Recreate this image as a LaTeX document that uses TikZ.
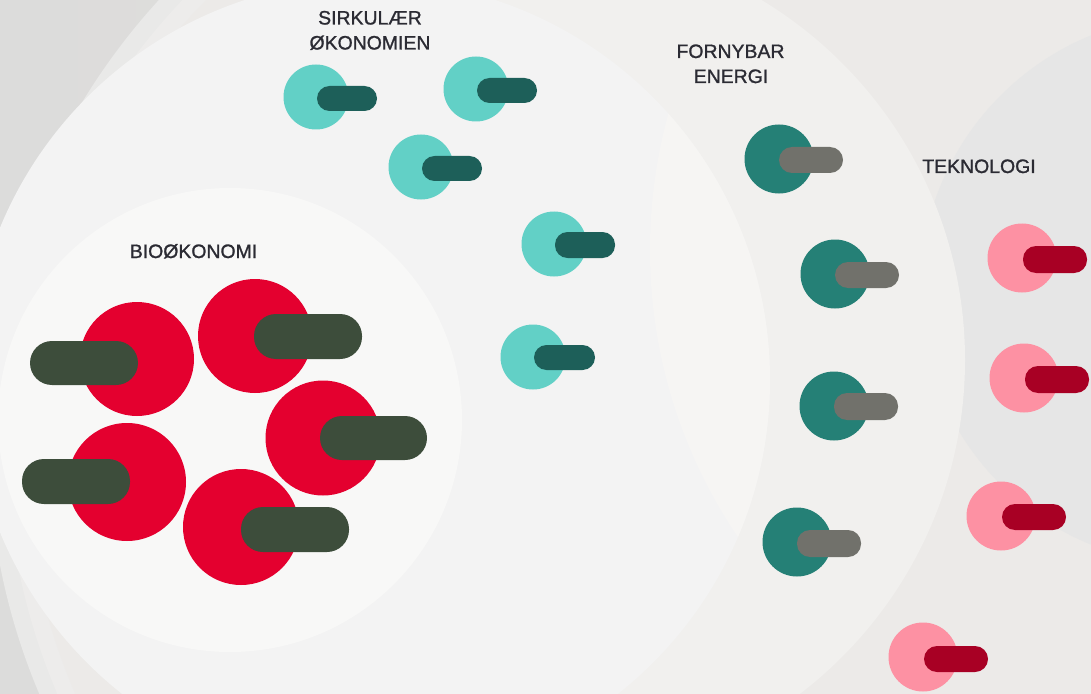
\documentclass[tikz,border=0pt]{standalone}
\usepackage{fontspec}
\setmainfont{Liberation Sans}
\newfontfamily\labfont[BoldFont=Liberation Sans, BoldFeatures={FakeBold=1.2}]{Liberation Sans}
\definecolor{bgL}{HTML}{DCDCDB}
\definecolor{bgR}{HTML}{E3E0DC}
\definecolor{ringA}{HTML}{E9E9E8}
\definecolor{ringB}{HTML}{EDECEB}
\definecolor{ringT}{HTML}{ECEAE8}
\definecolor{ringDark}{HTML}{E6E6E6}
\definecolor{ringF}{HTML}{F1F0EE}
\definecolor{ringS}{HTML}{F3F3F3}
\definecolor{ringLens}{HTML}{F6F5F3}
\definecolor{ringBio}{HTML}{F8F8F7}
\definecolor{cRed}{HTML}{E4002F}
\definecolor{cGreen}{HTML}{3D4D3B}
\definecolor{cCyan}{HTML}{62D0C6}
\definecolor{cCyanPill}{HTML}{1D5F59}
\definecolor{cTeal}{HTML}{258076}
\definecolor{cGrayPill}{HTML}{71716B}
\definecolor{cPink}{HTML}{FD91A3}
\definecolor{cCrimson}{HTML}{A80024}
\definecolor{txt}{HTML}{2B2B33}
\tikzset{
  label/.style={text=txt, inner sep=0pt, anchor=base, font=\labfont\bfseries\fontsize{19.5}{25}\selectfont},
  bigball/.style={fill=cRed},
  bigpill/.style={fill=cGreen, rounded corners=22bp},
  cyanball/.style={fill=cCyan},
  cyanpill/.style={fill=cCyanPill, rounded corners=12.5bp},
  tealball/.style={fill=cTeal},
  graypill/.style={fill=cGrayPill, rounded corners=13bp},
  pinkball/.style={fill=cPink},
  crimsonpill/.style={fill=cCrimson, rounded corners=13bp}
}
\begin{document}
\begin{tikzpicture}[x=1bp,y=-1bp]
\useasboundingbox (0,0) rectangle (1091,694);
\clip (0,0) rectangle (1091,694);
% background
\shade[left color=bgL, right color=bgR] (0,0) rectangle (1091,694);
% large rings
\fill[ringA] (640,440) circle[radius=652bp];
\fill[ringB] (648,442) circle[radius=642bp];
\fill[ringT] (656,444) circle[radius=632bp];
\fill[ringDark] (1195,290) circle[radius=275bp];
\fill[ringF] (545,360) circle[radius=420bp];
\fill[ringS] (370,380) circle[radius=400bp];
\begin{scope}
  \clip (370,380) circle[radius=400bp];
  \fill[ringLens] (1162,250) circle[radius=512bp];
\end{scope}
\fill[ringBio] (230,420) circle[radius=232bp];

% bioøkonomi
\fill[bigball] (137,359) circle[radius=57bp];
\fill[bigball] (255,336) circle[radius=57bp];
\fill[bigball] (323,438) circle[radius=57.5bp];
\fill[bigball] (127,482) circle[radius=59bp];
\fill[bigball] (241,527) circle[radius=58bp];
\fill[bigpill] (30,341) rectangle (138,385);
\fill[bigpill] (254,314) rectangle (362,359);
\fill[bigpill] (320,416) rectangle (427,460);
\fill[bigpill] (22,459) rectangle (130,504);
\fill[bigpill] (241,507) rectangle (349,552);

% sirkulær økonomi
\fill[cyanball] (316,97) circle[radius=32.5bp];
\fill[cyanpill] (317,86) rectangle (377,111);
\fill[cyanball] (476,89) circle[radius=32.5bp];
\fill[cyanpill] (477,78) rectangle (537,103);
\fill[cyanball] (421,167) circle[radius=32.5bp];
\fill[cyanpill] (422,156) rectangle (482,181);
\fill[cyanball] (554,244) circle[radius=32.5bp];
\fill[cyanpill] (555,232) rectangle (615,258);
\fill[cyanball] (533,357) circle[radius=32.5bp];
\fill[cyanpill] (534,345) rectangle (595,370);

% fornybar energi
\fill[tealball] (779,159) circle[radius=34.5bp];
\fill[graypill] (779,147) rectangle (843,173);
\fill[tealball] (835,274) circle[radius=34.5bp];
\fill[graypill] (835,262) rectangle (899,288);
\fill[tealball] (834,406) circle[radius=34.5bp];
\fill[graypill] (834,393) rectangle (898,420);
\fill[tealball] (797,542) circle[radius=34.5bp];
\fill[graypill] (797,530) rectangle (861,557);

% teknologi
\fill[pinkball] (1022,258) circle[radius=34.5bp];
\fill[crimsonpill] (1023,246) rectangle (1087,273);
\fill[pinkball] (1024,378) circle[radius=34.5bp];
\fill[crimsonpill] (1025,366) rectangle (1089,393);
\fill[pinkball] (1001,516) circle[radius=34.5bp];
\fill[crimsonpill] (1002,504) rectangle (1066,530);
\fill[pinkball] (923,657) circle[radius=34.5bp];
\fill[crimsonpill] (924,646) rectangle (988,672);

% labels
\node[label] (sirkA) at (370,24.5) {SIRKULÆR};
\node[label] (sirkB) at (370,49.5) {ØKONOMIEN};
\node[label] (fornA) at (730.5,58) {FORNYBAR};
\node[label] (fornB) at (731,83) {ENERGI};
\node[label] (tekn) at (979,173) {TEKNOLOGI};
\node[label] (bio) at (193.5,258) {BIOØKONOMI};
\end{tikzpicture}
\end{document}
